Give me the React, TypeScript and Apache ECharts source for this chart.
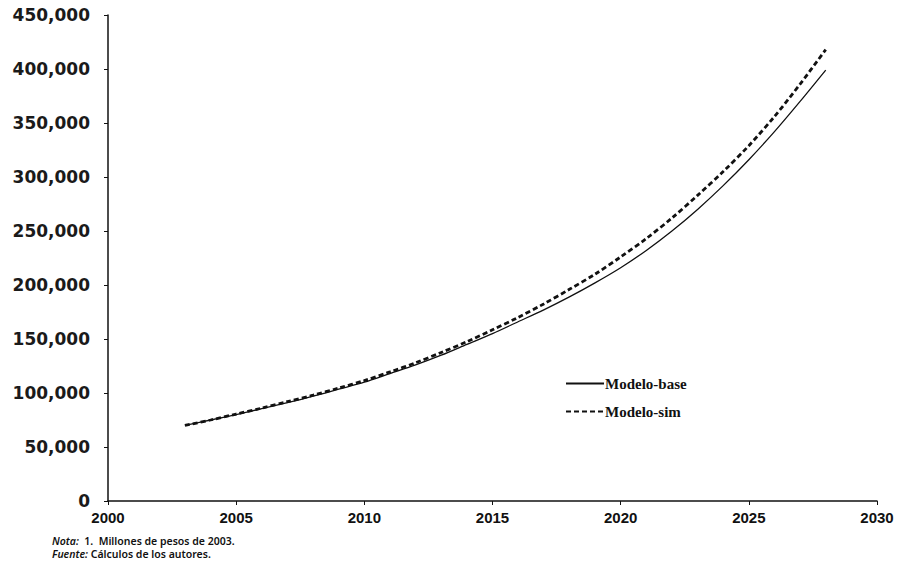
import React, { useEffect, useRef } from "react";
import * as echarts from "echarts";

const years = [2003, 2004, 2005, 2006, 2007, 2008, 2009, 2010, 2011, 2012, 2013, 2014, 2015, 2016, 2017, 2018, 2019, 2020, 2021, 2022, 2023, 2024, 2025, 2026, 2027, 2028];
const modeloBase = [70000, 75000, 80000, 85500, 91000, 97000, 103500, 110000, 118000, 126000, 135000, 145000, 155000, 166000, 177000, 189000, 202000, 216000, 232000, 250000, 270000, 292000, 316000, 342000, 370000, 399000];
const modeloSim = [70000, 75000, 80500, 86000, 92000, 98000, 104500, 111500, 119500, 128000, 137500, 147500, 158500, 170000, 182500, 196000, 210000, 226000, 243000, 262000, 283000, 305000, 329000, 356000, 386000, 418000];
const seriesNames = ["Modelo-base", "Modelo-sim"];
const noteLine1 = "1.  Millones de pesos de 2003.";
const noteLine2 = "Cálculos de los autores.";

export default function App() {
  const ref = useRef<HTMLDivElement>(null);
  useEffect(() => {
    if (!ref.current) return;
    const chart = echarts.init(ref.current, null, { renderer: "svg" });
    const noteStyle = { fill: "#111", fontFamily: "Noto Sans", fontSize: 10.5, fontWeight: 600, lineHeight: 11 };
    chart.setOption({
      animation: false,
      backgroundColor: "#ffffff",
      grid: { left: 108, right: 22, top: 15, bottom: 68 },
      xAxis: {
        type: "value",
        min: 2000,
        max: 2030,
        interval: 5,
        splitLine: { show: false },
        axisLine: { show: true, lineStyle: { color: "#111", width: 1.5 } },
        axisTick: { show: true, length: 4, lineStyle: { color: "#111" } },
        axisLabel: {
          formatter: (v: number) => String(v),
          color: "#111",
          fontFamily: "Liberation Sans",
          fontWeight: "bold",
          fontSize: 15,
          margin: 9,
        },
      },
      yAxis: {
        type: "value",
        min: 0,
        max: 450000,
        interval: 50000,
        splitLine: { show: false },
        axisLine: { show: true, lineStyle: { color: "#111", width: 1.5 } },
        axisTick: { show: true, length: 4, lineStyle: { color: "#111" } },
        axisLabel: {
          formatter: (v: number) => v.toLocaleString("en-US"),
          color: "#1a1a1a",
          fontFamily: "DejaVu Sans",
          fontWeight: "bold",
          fontSize: 17,
          margin: 18,
        },
      },
      legend: {
        orient: "vertical",
        left: 560,
        top: 371,
        itemWidth: 38,
        itemHeight: 12,
        itemGap: 13,
        data: seriesNames,
        itemStyle: { opacity: 0 },
        textStyle: {
          color: "#111",
          fontFamily: "Liberation Serif",
          fontWeight: "bold",
          fontSize: 15,
          padding: [0, 0, 0, -4],
        },
      },
      series: [
        {
          name: seriesNames[0],
          type: "line",
          symbol: "none",
          smooth: 0.3,
          data: years.map((y, i) => [y, modeloBase[i]]),
          lineStyle: { color: "#111", width: 1.3, type: "solid" },
          itemStyle: { color: "#111" },
        },
        {
          name: seriesNames[1],
          type: "line",
          symbol: "none",
          smooth: 0.3,
          data: years.map((y, i) => [y, modeloSim[i]]),
          lineStyle: { color: "#111", width: 2.8, type: [5, 3] },
          itemStyle: { color: "#111" },
        },
      ],
      graphic: [
        {
          type: "text",
          left: 52,
          top: 535,
          style: {
            text: "{i|Nota:}  " + noteLine1,
            ...noteStyle,
            rich: { i: { ...noteStyle, fontStyle: "italic" } },
          },
        },
        {
          type: "text",
          left: 52,
          top: 548,
          style: {
            text: "{i|Fuente:} " + noteLine2,
            ...noteStyle,
            rich: { i: { ...noteStyle, fontStyle: "italic" } },
          },
        },
      ],
    });
    return () => chart.dispose();
  }, []);
  return <div ref={ref} style={{ position: "fixed", left: 0, top: 0, width: 899, height: 569 }} />;
}
